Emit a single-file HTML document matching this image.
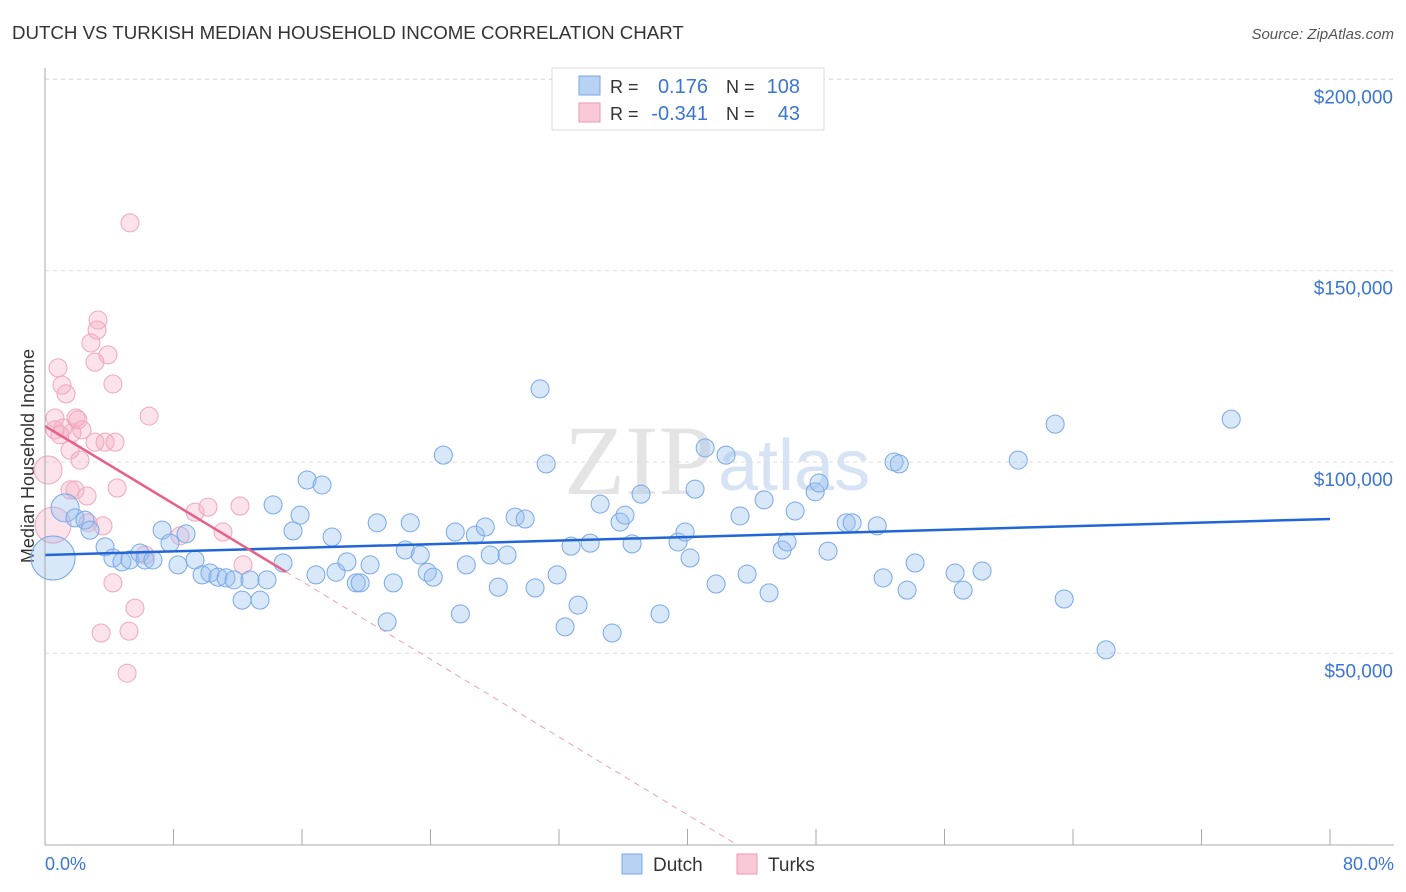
<!DOCTYPE html>
<html><head><meta charset="utf-8"><style>
body{margin:0;background:#fff;width:1406px;height:892px;overflow:hidden;font-family:"Liberation Sans",sans-serif}
svg{position:absolute;left:0;top:0}
</style></head><body>
<svg id="chart" width="1406" height="892">
<text x="12" y="39" font-size="18.7" fill="#333">DUTCH VS TURKISH MEDIAN HOUSEHOLD INCOME CORRELATION CHART</text>
<text x="1394" y="39" font-size="15" fill="#555" font-style="italic" text-anchor="end">Source: ZipAtlas.com</text>
<text x="34" y="456" font-size="18" fill="#333" text-anchor="middle" transform="rotate(-90 34 456)">Median Household Income</text>
<text x="714" y="494" font-size="100" fill="#e4e4e4" text-anchor="end" font-family="Liberation Serif,serif">ZIP</text>
<text x="718" y="490" font-size="72" fill="#d6e3f5">atlas</text>
<g id="grid"></g><g id="pts"></g><g id="lines"></g>
<line x1="45" y1="68" x2="45" y2="845" stroke="#aaa"/>
<line x1="45" y1="845" x2="1394" y2="845" stroke="#aaa"/>
<text x="45" y="870" font-size="18" fill="#3a75d6">0.0%</text>
<text x="1394" y="870" font-size="18" fill="#3a75d6" text-anchor="end">80.0%</text>
<g>
<rect x="552" y="68" width="272" height="62" fill="#fff" stroke="#ddd"/>
<rect x="579" y="76" width="21" height="19" fill="#b8d2f4" stroke="#7aa6e6"/>
<rect x="579" y="103" width="21" height="19" fill="#f9c9d7" stroke="#ec9ab3"/>
<text x="610" y="93" font-size="18" fill="#333">R =</text>
<text x="708" y="93" font-size="20" fill="#3a75d6" text-anchor="end">0.176</text>
<text x="726" y="93" font-size="18" fill="#333">N =</text>
<text x="800" y="93" font-size="20" fill="#3a75d6" text-anchor="end">108</text>
<text x="610" y="120" font-size="18" fill="#333">R =</text>
<text x="708" y="120" font-size="20" fill="#3a75d6" text-anchor="end">-0.341</text>
<text x="726" y="120" font-size="18" fill="#333">N =</text>
<text x="800" y="120" font-size="20" fill="#3a75d6" text-anchor="end">43</text>
</g>
<g>
<rect x="622" y="854" width="20" height="20" fill="#b8d2f4" stroke="#7aa6e6"/>
<text x="653" y="871" font-size="19" fill="#333">Dutch</text>
<rect x="737" y="854" width="20" height="20" fill="#f9c9d7" stroke="#ec9ab3"/>
<text x="768" y="871" font-size="19" fill="#333">Turks</text>
</g>
</svg>
<script>
const yTicks=[50,100,150,200];
const yTickLabels=["$50,000","$100,000","$150,000","$200,000"];
const xTicks=[0,8,16,24,32,40,48,56,64,72,80];
const dutchX=[0.5,1.25,1.87,2.49,2.8,3.74,4.23,4.79,5.29,5.91,6.23,6.72,7.29,7.78,8.28,8.78,9.34,9.78,10.27,10.77,11.27,11.77,12.27,12.76,13.39,13.82,14.2,14.82,15.44,15.88,16.32,16.87,17.25,17.87,18.12,18.8,19.38,19.62,20.24,20.68,21.3,21.68,22.43,22.74,23.36,23.8,24.17,24.8,25.54,25.86,26.23,26.79,27.41,27.72,28.22,28.77,29.27,29.89,30.51,30.82,31.2,31.88,32.38,32.75,33.19,33.94,34.56,35.31,35.8,36.11,36.55,37.11,38.29,39.41,39.85,40.16,40.47,41.1,41.78,42.4,43.27,43.71,44.77,45.08,45.89,46.2,46.7,47.95,48.19,48.75,49.88,50.25,51.81,52.18,52.86,53.18,53.67,54.17,56.66,57.16,58.34,60.59,62.89,63.45,66.06,73.85];
const dutchY=[74.9,88.0,85.4,84.8,82.2,77.8,74.9,73.9,74.4,76.2,74.4,74.4,82.2,78.8,73.1,81.2,74.4,70.5,71.0,69.9,69.7,69.2,63.9,69.2,63.9,69.2,88.8,73.6,82.0,86.1,95.3,70.5,94.0,80.4,71.2,73.9,68.4,68.4,73.1,84.1,58.2,68.4,77.0,84.1,75.7,71.2,69.9,101.8,81.7,60.3,73.1,80.9,83.0,75.7,67.3,75.7,85.6,85.1,67.1,119.1,99.5,70.5,56.9,78.0,62.6,78.8,89.0,55.3,84.3,86.1,78.6,91.6,60.3,79.1,81.7,74.9,92.9,103.7,68.1,101.8,85.9,70.7,90.1,65.8,77.0,79.1,87.2,92.2,94.5,76.7,84.1,84.1,83.3,69.7,100.0,99.5,66.5,73.6,71.0,66.5,71.5,100.5,109.9,64.2,50.9,111.2];
const dutchSize=[22,14];
const turksX=[0.19,0.5,0.62,0.81,1.06,1.31,0.62,0.93,1.12,1.56,1.68,1.93,2.05,2.18,2.3,1.56,1.87,2.62,2.68,3.11,3.3,3.24,2.86,3.11,3.92,4.23,4.36,3.74,4.49,3.61,4.23,3.49,5.6,5.23,5.11,5.29,6.48,6.23,8.41,9.34,10.15,11.08,12.14,12.33];
const turksY=[97.9,83.5,111.5,124.6,120.1,117.8,108.4,107.1,108.9,103.1,107.6,111.5,111.0,100.5,108.4,92.7,92.7,91.1,84.1,105.2,137.1,134.5,131.1,126.1,128.0,120.4,105.2,105.2,93.2,83.3,68.4,55.3,61.8,55.8,44.8,162.5,112.0,75.7,80.7,86.9,88.2,81.7,88.5,73.1];
const turksSize=[14,18];
const dutchTrend=[75.7,85.1];
const turksTrend=[109.4,-2.54];
const NS="http://www.w3.org/2000/svg";
const X=p=>45+p*16.0625, Y=v=>462-(v-100)*3.826;
function mk(tag,attrs,parent){const e=document.createElementNS(NS,tag);for(const k in attrs)e.setAttribute(k,attrs[k]);parent.appendChild(e);return e;}
const grid=document.getElementById('grid'),pts=document.getElementById('pts'),lines=document.getElementById('lines'),svg=document.getElementById('chart');
yTicks.forEach((t,i)=>{
 const l=mk('line',{x1:45,x2:1394,y1:Y(t),y2:Y(t),stroke:'#ddd','stroke-dasharray':'4 4'},grid);
 
 
 const tx=mk('text',{x:1393,y:Y(t)+24,'font-size':19,fill:'#3a75d6','text-anchor':'end'},svg);
 tx.textContent=yTickLabels[i];
 
 
});
{const l=mk('line',{x1:45,x2:1394,y1:79,y2:79,stroke:'#ddd','stroke-dasharray':'4 4'},grid);
 
 }
xTicks.forEach(t=>{
 const l=mk('line',{x1:X(t),x2:X(t),y1:829,y2:845,stroke:'#aaa'},grid);
 
 
});
turksX.forEach((x,i)=>{
 const c=mk('circle',{cx:X(x),cy:Y(turksY[i]),r:turksSize[i]||9,fill:'rgba(246,170,195,0.33)',stroke:'#f0a6bd','stroke-width':1},pts);
 
 
});
dutchX.forEach((x,i)=>{
 const c=mk('circle',{cx:X(x),cy:Y(dutchY[i]),r:dutchSize[i]||9,fill:'rgba(150,190,238,0.36)',stroke:'#78a8e8','stroke-width':1},pts);
 
 
});
const bl=mk('line',{x1:X(0),y1:Y(dutchTrend[0]),x2:X(80),y2:Y(dutchTrend[1]),stroke:'#2266d6','stroke-width':2.5},lines);


const tv=p=>turksTrend[0]+turksTrend[1]*p;
const pl=mk('line',{x1:X(0),y1:Y(tv(0)),x2:X(15),y2:Y(tv(15)),stroke:'#e8608a','stroke-width':2.5},lines);


const pend=-turksTrend[0]/turksTrend[1];
const pd=mk('line',{x1:X(15),y1:Y(tv(15)),x2:X(pend),y2:Y(0),stroke:'#eea0b8','stroke-width':1,'stroke-dasharray':'6 5'},lines);


</script>
</body></html>
